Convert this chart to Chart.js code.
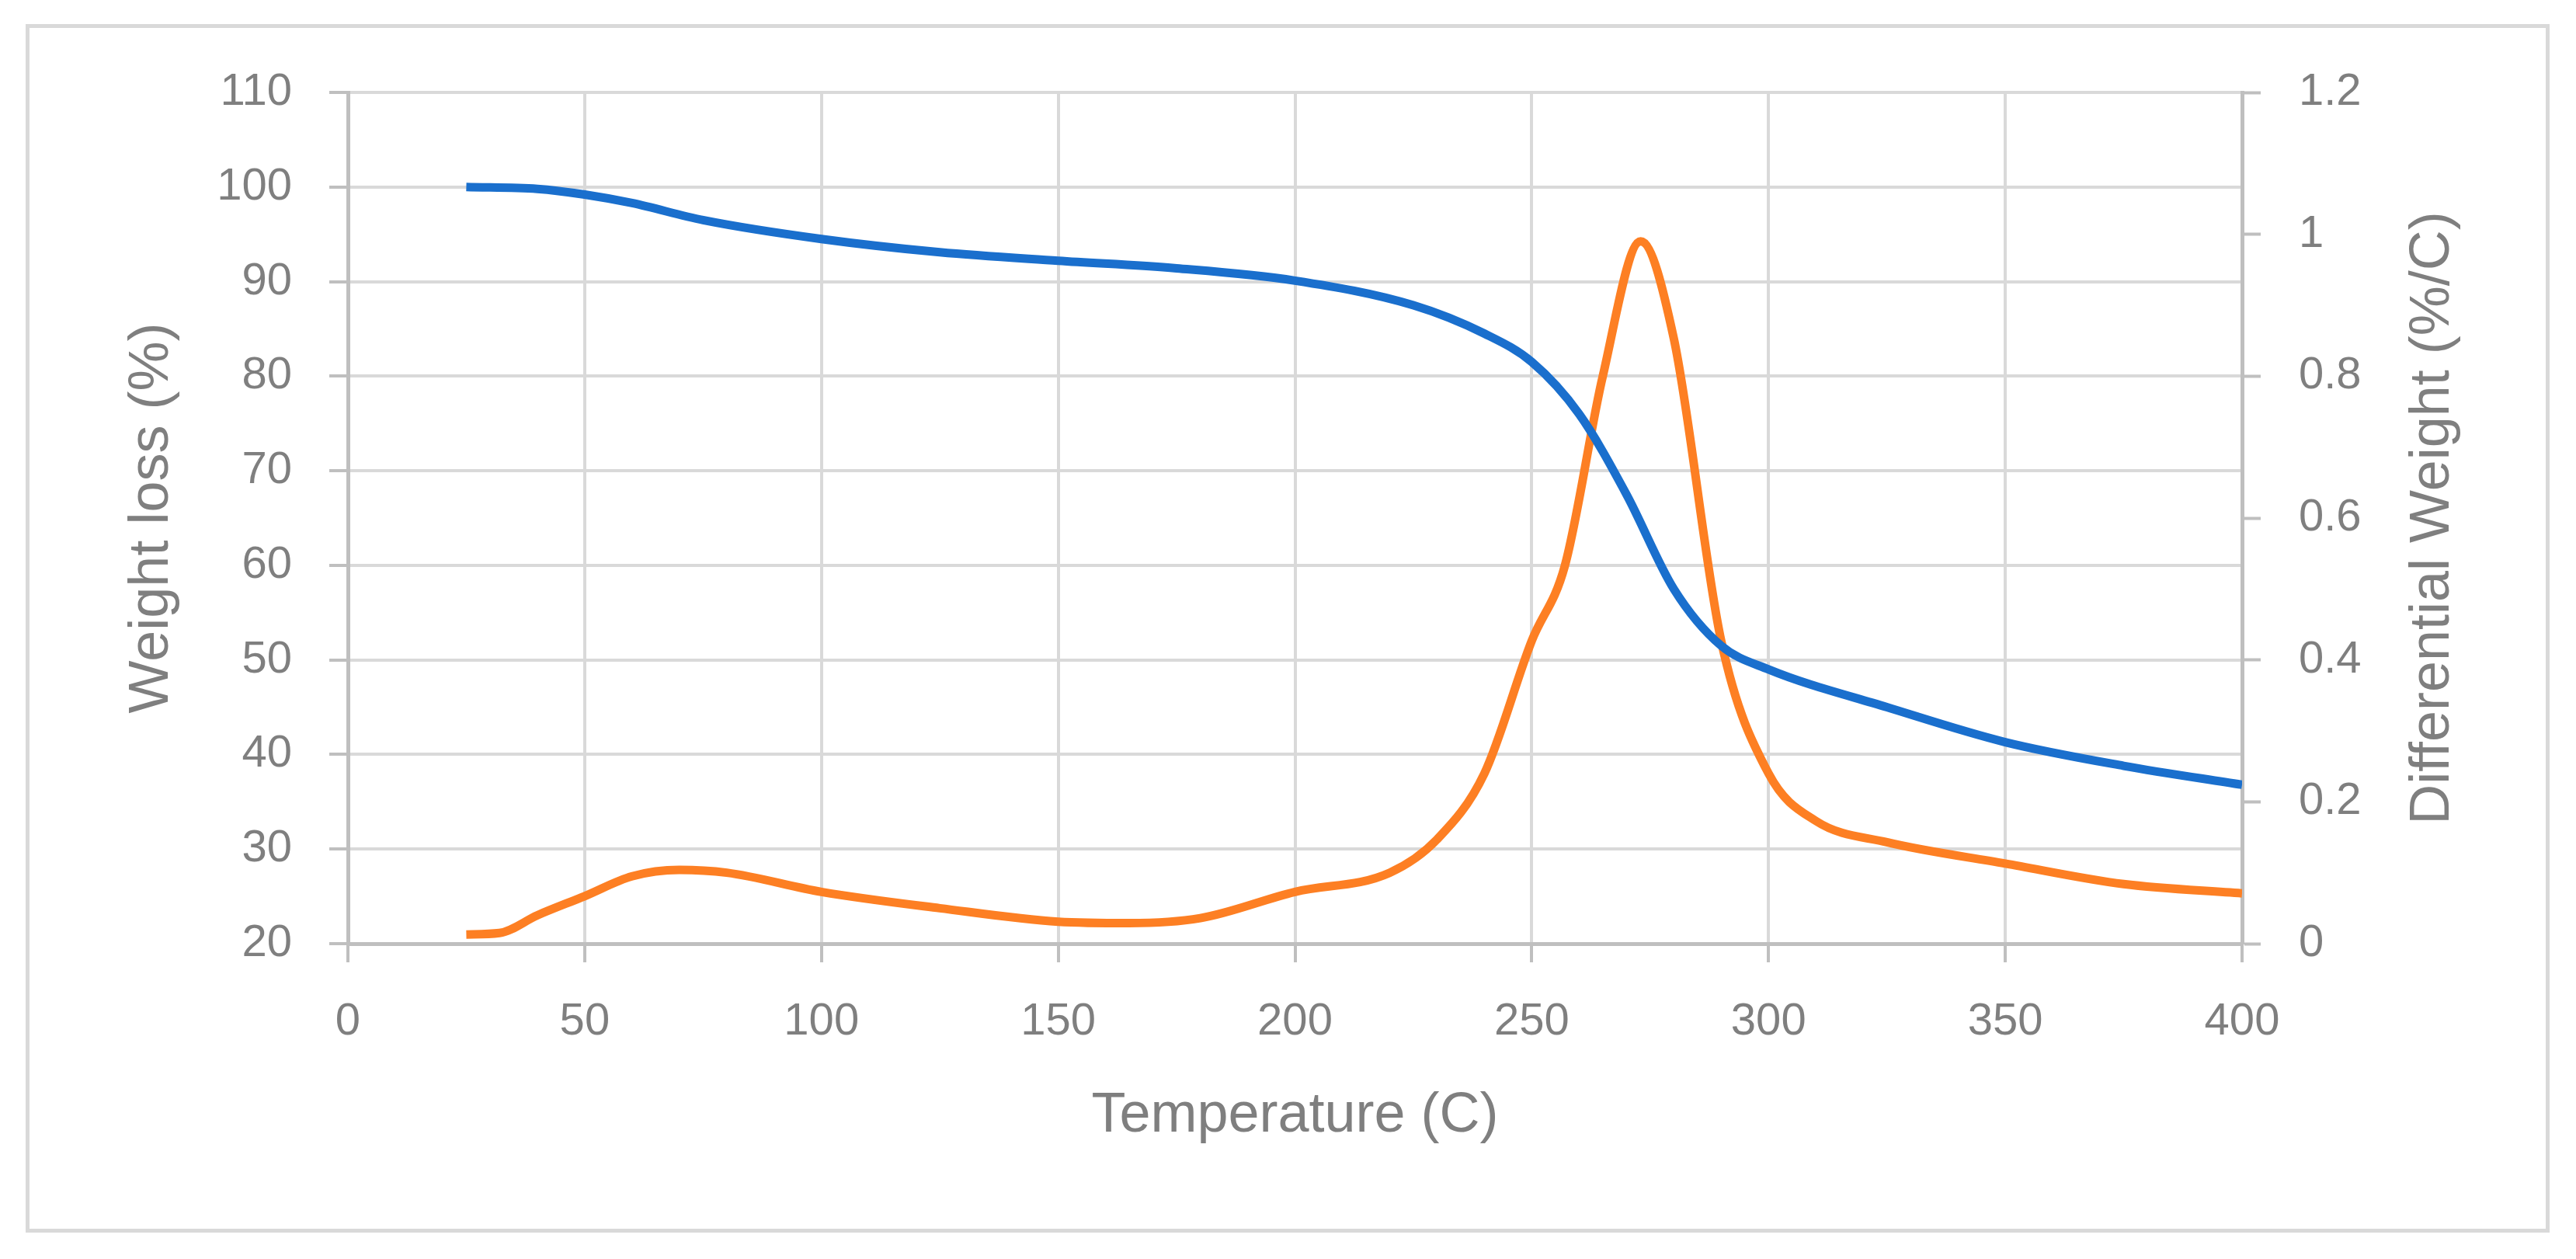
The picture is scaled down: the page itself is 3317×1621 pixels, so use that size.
<!DOCTYPE html>
<html><head><meta charset="utf-8">
<script src="https://cdn.jsdelivr.net/npm/chart.js@4"></script>
<style>
html,body{margin:0;padding:0;background:#fff;overflow:hidden;}
#box{position:absolute;left:33px;top:31px;width:3250px;height:1556px;border:5px solid #d9d9d9;box-sizing:border-box;}
#wrap{position:absolute;left:0;top:0;width:3317px;height:1621px;}
</style></head><body>
<div id="box"></div>
<div id="wrap"><canvas id="c"></canvas></div>
<script>
const weightT=[25,40,50,60,75,100,125,150,175,200,225,240,250,260,270,280,290,300,325,350,375,400];
const weightV=[100,99.8,99.2,98.3,96.5,94.5,93.1,92.2,91.4,90.1,87.5,84.5,81.5,76,67.5,57.5,51.5,49,45,41.3,38.8,36.8];
const derivT=[25,32,40,50,60,70,80,100,125,150,165,180,200,220,230,240,250,257,265,273,280,290,300,310,325,350,375,400];
const derivV=[0.013,0.015,0.04,0.067,0.095,0.104,0.1,0.073,0.05,0.031,0.029,0.036,0.073,0.1,0.147,0.24,0.427,0.533,0.8,0.99,0.853,0.427,0.24,0.173,0.143,0.113,0.084,0.071];
const xTicks=[0,50,100,150,200,250,300,350,400];
const xTitle='Temperature (C)', yTitle='Weight loss (%)', y1Title='Differential Weight (%/C)';
const tc='#7f7f7f', axc='#bfbfbf', fam='Liberation Sans';
const titles={id:'titles',afterDraw(ch){
  const c=ch.ctx, a=ch.chartArea;c.save();c.fillStyle=tc;c.font='72px '+fam;c.textAlign='center';c.textBaseline='middle';
  c.fillText(xTitle,(a.left+a.right)/2,1437);
  c.translate(196,(a.top+a.bottom)/2);c.rotate(-Math.PI/2);c.fillText(yTitle,0,0);c.restore();
  c.save();c.fillStyle=tc;c.font='72px '+fam;c.textAlign='center';c.textBaseline='middle';
  c.translate(3133,667);c.rotate(-Math.PI/2);c.fillText(y1Title,0,0);c.restore();
}};
new Chart(document.getElementById('c'),{
 type:'line',
 data:{datasets:[
  {label:'Weight loss',data:weightT.map((t,i)=>({x:t,y:weightV[i]})),borderColor:'#1a6fcd',borderWidth:11,pointRadius:0,cubicInterpolationMode:'monotone',yAxisID:'y'},
  {label:'Differential Weight',data:derivT.map((t,i)=>({x:t,y:derivV[i]})),borderColor:'#fd7f23',borderWidth:11,pointRadius:0,cubicInterpolationMode:'monotone',yAxisID:'y1'}
 ]},
 plugins:[titles],
 options:{responsive:true,maintainAspectRatio:false,animation:false,devicePixelRatio:1,
  layout:{padding:{top:119,right:0,left:0,bottom:0}},
  plugins:{legend:{display:false},tooltip:{enabled:false}},
  scales:{
   x:{type:'linear',min:0,max:400,afterBuildTicks:a=>{a.ticks=xTicks.map(v=>({value:v}));},afterFit:s=>{s.height=406;},
      grid:{color:'#d9d9d9',lineWidth:4,tickLength:24,tickColor:axc,tickWidth:4},border:{color:axc,width:5},
      ticks:{color:tc,font:{size:58,family:fam},padding:42,maxRotation:0}},
   y:{position:'left',min:20,max:110,afterFit:s=>{s.width=448;},
      ticks:{stepSize:10,color:tc,font:{size:58,family:fam},padding:48},
      grid:{color:'#d9d9d9',lineWidth:4,tickLength:24,tickColor:axc,tickWidth:4},border:{color:axc,width:5}},
   y1:{position:'right',min:0,max:1.2,afterFit:s=>{s.width=430;},
      ticks:{stepSize:0.2,color:tc,font:{size:58,family:fam},padding:49,callback:v=>+v.toFixed(1)},
      grid:{drawOnChartArea:false,tickLength:24,tickColor:axc,tickWidth:4},border:{color:axc,width:5}}
  }}
});
</script></body></html>
